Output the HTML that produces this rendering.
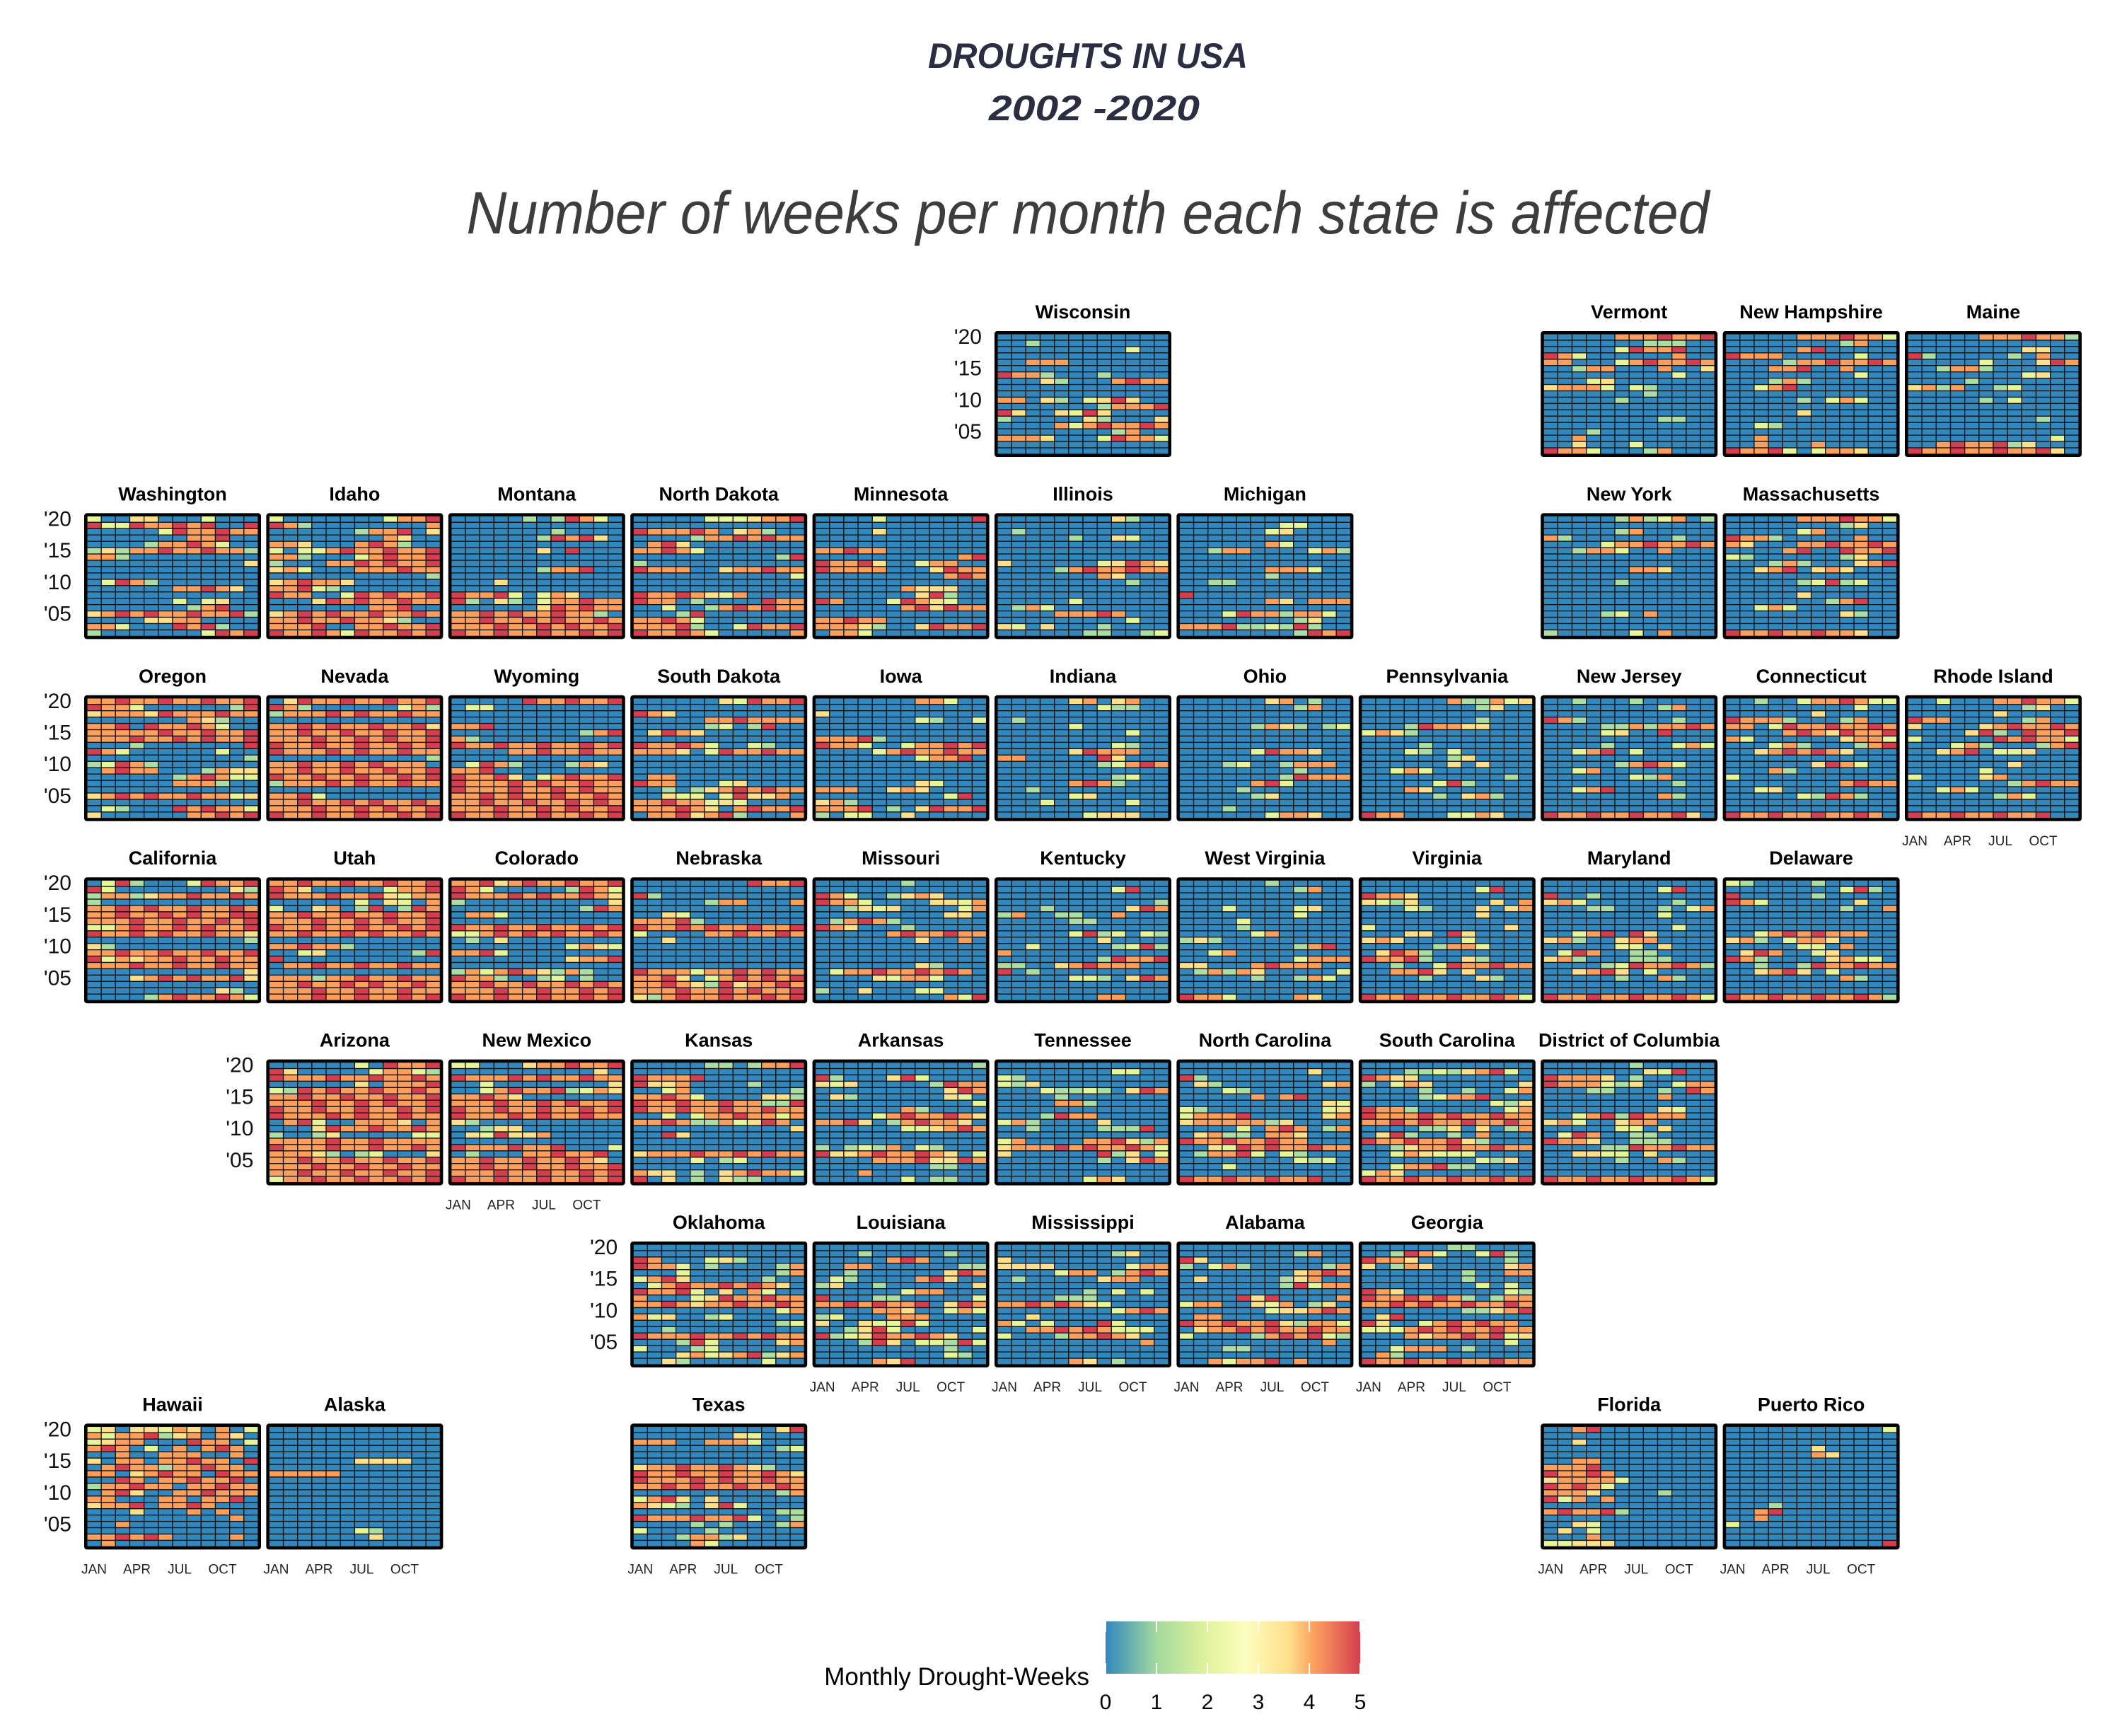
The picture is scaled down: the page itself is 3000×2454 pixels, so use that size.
<!DOCTYPE html>
<html><head><meta charset="utf-8"><title>Droughts in USA</title>
<style>
html,body{margin:0;padding:0;background:#fff;}
svg{display:block;}
</style></head>
<body>
<svg id="chart" width="3000" height="2454" viewBox="0 0 3000 2454" xmlns="http://www.w3.org/2000/svg">
<rect x="0" y="0" width="3000" height="2454" fill="#ffffff"/>
<text x="1538" y="96" text-anchor="middle" font-family="'Liberation Sans', sans-serif" font-weight="bold" font-style="italic" font-size="50" fill="#2b2d42" textLength="452" lengthAdjust="spacingAndGlyphs">DROUGHTS IN USA</text>
<text x="1547" y="170" text-anchor="middle" font-family="'Liberation Sans', sans-serif" font-weight="bold" font-style="italic" font-size="50" fill="#2b2d42" textLength="298" lengthAdjust="spacingAndGlyphs">2002 -2020</text>
<text x="1538" y="330" text-anchor="middle" font-family="'Liberation Sans', sans-serif" font-style="italic" font-size="84" fill="#3d3d3d" textLength="1757" lengthAdjust="spacingAndGlyphs">Number of weeks per month each state is affected</text>
<g id="panels"></g>
<g id="legend"></g>
</svg>
<script>
const stateNames = ["Wisconsin","Vermont","New Hampshire","Maine","Washington","Idaho","Montana","North Dakota","Minnesota","Illinois","Michigan","New York","Massachusetts","Oregon","Nevada","Wyoming","South Dakota","Iowa","Indiana","Ohio","Pennsylvania","New Jersey","Connecticut","Rhode Island","California","Utah","Colorado","Nebraska","Missouri","Kentucky","West Virginia","Virginia","Maryland","Delaware","Arizona","New Mexico","Kansas","Arkansas","Tennessee","North Carolina","South Carolina","District of Columbia","Oklahoma","Louisiana","Mississippi","Alabama","Georgia","Hawaii","Alaska","Texas","Florida","Puerto Rico"];
const gridCol = [5,8,9,10,0,1,2,3,4,5,6,8,9,0,1,2,3,4,5,6,7,8,9,10,0,1,2,3,4,5,6,7,8,9,1,2,3,4,5,6,7,8,3,4,5,6,7,0,1,3,8,9];
const gridRow = [0,0,0,0,1,1,1,1,1,1,1,1,1,2,2,2,2,2,2,2,2,2,2,2,3,3,3,3,3,3,3,3,3,3,4,4,4,4,4,4,4,4,5,5,5,5,5,6,6,6,6,6];
const years = [2020,2019,2018,2017,2016,2015,2014,2013,2012,2011,2010,2009,2008,2007,2006,2005,2004,2003,2002];
const months = ["JAN","FEB","MAR","APR","MAY","JUN","JUL","AUG","SEP","OCT","NOV","DEC"];
const monthTickLabels = ["JAN","APR","JUL","OCT"];
const monthTickIndex = [0,3,6,9];
const yearTickLabels = ["'20","'15","'10","'05"];
const yearTickValues = [2020,2015,2010,2005];
const legendTicks = [0,1,2,3,4,5];
const yearAxisStates = ["Wisconsin","Washington","Oregon","California","Arizona","Oklahoma","Hawaii"];
const monthAxisStates = ["Rhode Island","New Mexico","Louisiana","Mississippi","Alabama","Georgia","Hawaii","Alaska","Texas","Florida","Puerto Rico"];
// weeks of drought per month; each group = one year (2020 first), 12 digits Jan..Dec
const droughtWeeks = [
"000000000000 001000000000 000000000200 000000000000 004440000000 000000000000 544100010000 000310004544 000000000000 000000000000 440310235300 000000014445 530032530000 100000310003 000042454454 000000001400 444300025442 000000000000 000000000000",
"000004445445 000000011100 000002544500 542000000400 440002454454 001440004003 000000000200 000230000000 344420210000 000000010000 000001000000 000000000000 000000000000 000000001100 000000000000 000100000000 004000000000 003000200000 544200014000",
"000004445442 000000001400 000004500000 544400000200 000014454454 000445004000 000000000200 000141000000 002450000000 000000000000 000001024200 000000000000 000003000000 000000000000 002100000000 000000000000 004000000000 004000400000 544520244300",
"000004445441 000000000000 000000003300 510000010400 000002000354 001441000000 000000002300 000010000000 341400120000 000000000000 000001020000 000000000000 000000000000 000000000100 000000000000 000000000000 000000000020 004544513000 544544544530",
"200330002000 522544545005 000002544544 000000044500 000014454200 131445445441 441000000000 000000000003 000000000000 000000000000 025410000000 000000445430 000000000000 000000202300 000000014500 345454454451 000033440000 442000545100 100000002545",
"200000002445 541000000004 000000144503 000000004300 443000454100 202245445445 441000245445 100044545445 342000444544 000000000001 345443000000 445210000000 544002545445 000354544544 000000044500 345454454454 445445443100 444500445445 544542544545",
"000001015420 000000000000 000000010000 000000154530 000000000000 000000305000 000000000000 000000000000 000000144500 000000000000 000300000000 000000000000 544520243000 510310244544 000000354544 445454454410 445445454454 444544545445 544544544545",
"000002223445 000000000000 544454034100 000014454544 045300000000 445420000000 000000000015 100000000000 544400344544 000000000002 000000000000 000000000000 544543240000 544010000544 002001454544 000150000000 445420000000 444510025445 544542000004",
"000020000005 000000000000 000030000000 000000000000 000000000000 445440000000 000000000045 544530024400 544440003544 000000000454 000000000000 000000433300 000000035100 540002543200 000000453544 000000000000 445440000000 444310035445 044200000000",
"000000003100 000000000000 010000000000 000001003200 000000000000 000000000000 000000000000 300000023543 000014544544 000000043000 000000000100 000000000000 000000000000 000002000000 014200000000 000044454000 000000000200 320300010000 000000110012",
"000000000000 000000022000 000000230000 000000000000 000000420000 001440000241 000000000000 000000000000 000000444200 000000100000 001100000000 000000000000 500000000000 000000430444 000000000000 000254414420 000000001300 444511215100 000000001545",
"000001412401 000000000000 000001400000 410000000100 000024454454 001442004000 000000000000 000000000000 000000443000 000000000000 000001000000 000000000000 000000000000 000000000000 000000000000 000012040000 000000000000 000000000000 100000204000",
"000004445442 000000001300 000002400000 544100000400 430004454454 000045005445 210000001300 000141000345 003450343000 000000000000 000001251200 000000000000 000003000000 000000014500 002420000000 000000003100 000000000000 000000000000 544544544300",
"445445445445 544200000015 344435444544 000000043100 445054454200 444445445445 444544545445 000100000005 542000000200 000000000001 125410000000 045440001433 000000145422 000000444100 000000000000 345454454423 000000000000 021000545442 300000044545",
"035445445445 541000000241 144454544544 000000000000 445454454453 445445445445 444544545445 544544544545 544454544544 000000000001 445445454440 445445445445 544544544545 144454544544 000000000000 445200000000 445445454454 444544545445 544544544545",
"000005445445 022000000000 000000000000 000000000000 445000000000 000000000145 410000000000 544544544545 000044544544 000000000000 025410001430 445000000000 544530245445 544454544544 544454454544 445454454454 445445445454 444544545445 544544544545",
"000000325445 000000000000 543000000000 000004454444 000001201500 035430000000 000000000000 544542002100 444302544544 000000000000 000000000000 000000000000 044000000000 544000230000 001013454544 003220253340 445442320000 444543045445 044534510004",
"000000044200 000000000000 300000000000 000000021002 000000000000 000000000000 444510000000 544200244545 000024544544 000000024450 000000000000 000000000000 000000000000 000000032000 444003430000 000000000250 341000000000 444501035445 102200300000",
"000003403400 000000021100 000000000000 010000000000 000002000000 000000000200 000000000000 000000002100 000003544400 440000053000 000000012454 000000000000 000000001200 000004541000 001000000000 000002300000 000200000200 000000000000 000000233300",
"000000340100 000000001400 000000000000 000000000000 000001431012 000000000000 000000000000 000000000000 000002544300 000000000000 000120014440 000000001000 000000015444 000004520000 000010000000 000001300000 000000000000 000100000000 000000244300",
"000000411423 000000001300 000000000000 000000001000 000154433000 243100000000 000000000000 000010000000 000210200000 000000130000 000000303000 002420000000 000000000010 000002510000 000430000000 000001034100 000000000000 000000000000 544000224300",
"001000100000 000000001400 000000000000 541000000100 000011414454 000023005000 000000000000 000010000242 002450200000 000000000000 000001454200 002400000000 000000214000 000000000100 002450000000 000000004100 000000000000 000000000000 544544544530",
"001002445422 000000000200 000000300000 544410001400 440254454454 000045435445 420000003442 000241000145 003454543000 000000000000 000000354200 000410000000 200000000000 000000004544 002300000000 000002154100 000000000000 000000000000 544544544540",
"002000445442 000000001300 000000300000 544000001400 300003454454 000035105445 200000545442 000241000145 003450223000 000000000000 000000030000 000002000000 200003400000 000000014544 002420000000 000000142000 000000000000 000000000000 544544544500",
"025100025445 520000000031 144134454454 100000000000 445454454454 445445454455 444544544545 224544545445 544545445443 000000000001 310000000000 445445445445 524344544544 444544544544 000000000003 000345454453 000000000000 000000000310 000014544542",
"445445445445 543000002445 544454453244 000000203204 200340150154 445445445445 444544545445 544544544545 445445454454 000000000000 445441000000 002300000015 500000000000 044544544544 000000000000 444144544544 445445454454 444544544544 444544544545",
"445345445445 542000001542 544454544543 100000000003 000000000154 044200000000 000000000000 544544544545 224545454454 010300000000 000000002432 445200000000 000000003445 000000000000 142454314100 544100120100 445445445454 444544544545 544544544545",
"000000005445 000000000000 510000000000 000001440004 000000000000 003200000000 444510000000 544545445445 200004454454 003000000000 000000000000 000000000000 000000000000 000000000000 544424454544 445302454545 445431534454 444544545445 314544544545",
"000000100000 000000000000 542001343000 544200003324 001323000024 000000000330 014541000000 543000100000 000004544544 000000030040 000000000000 000000000000 000000000000 000000031000 024454454540 000032442000 000000000000 100300022000 000000000425",
"000000000000 000000002500 000000000000 000000000001 000100000354 140011004000 000001100000 000000000000 000002512021 000000030000 002000001251 400000000000 000000015445 110034544400 501000000000 000002210354 000000000000 000000000000 000000044000",
"000000100000 000000001400 000000000000 000000000000 000200002300 000000002000 000020000000 000010000000 000002400000 131000000000 000000001450 002400000000 000000002444 330004544400 014143000002 000001001420 000000000000 000000000000 544200004300",
"000000000000 000000002500 544300000000 321300000304 000210003034 000000003000 000000000000 200000000030 000330530000 343000020000 000001442000 035410000000 544510031000 001002544544 004453030000 000010003100 000000000000 000000000000 544544544542",
"000000000000 000000002500 500100000000 342000000100 000110001024 000000002000 000000000000 000000000200 002450530000 341003440000 000002203000 025400110000 341000111000 000012544541 003453020000 000001004100 000000000000 000000000000 544544544542",
"210000100000 000000002510 500000100000 542000000300 000000001004 000000000000 000000000000 000000000000 002454544400 341024430000 000002204000 035400230000 541000034220 001001544544 003453020000 000000004100 000000000000 000000000000 544544544541",
"000000205445 530000024421 544454454454 000000304445 215454454454 445445445445 444544545445 544544544545 544454544544 045200444304 000354454454 100130000022 444454454444 544454454454 444310120003 445445445445 444544544544 445445445445 244544544545",
"220003445445 000000000030 544454544544 002000000003 002454451243 445430000000 444544545445 544544544545 544454544544 310000000000 001330000000 032533400000 000000000000 544454450002 010004454450 445445445430 445445445445 444544544545 544544544545",
"000001101445 000000000000 544450000000 533400001000 002400000001 445420000331 544544544115 544544544544 002024454424 445411423540 000000000003 005300000000 000000000000 000000000000 344454454544 000020120000 000000000000 433010345442 503010311000",
"000000000001 000000000000 510003520000 323000001544 000000000354 031000000320 000000000002 000000410000 000024544543 445301454430 000000223454 000000000000 000000000000 101214021000 533454454302 000044453354 000000001100 000400000000 000000201100",
"000000000000 000000002200 210000000000 213000000000 000211210354 000010000000 000044100000 000000000000 000154400000 241000030000 001000011150 000000000000 240000445314 344454544542 300000051302 000000010354 000000000000 000000000000 000000243000",
"000000000000 000000000300 510000000000 031000000034 000210000000 000004045000 000000000032 210000000023 244450000034 344444130000 000020454014 034110443000 544544544000 003254544544 014452021000 000000002120 000200000000 000000000000 544544544500",
"000000000000 000112134520 543300000000 102430000003 000010010024 000012445000 000000000213 544100000024 544454544544 445454454454 000011303014 035100104000 544544531000 001344544544 002432220000 000000002130 002445110000 243000000000 544544544545",
"000000100000 000000032500 544430100000 544421300244 000110001054 000000004000 000000000000 000000003200 002451544400 342003440000 000002203000 025400110000 544300111000 000011544544 003322030000 000001004100 000000000000 000000000000 544544544542",
"000000000000 000000000000 540002310000 544201000014 000200000014 245300000100 024544545430 544520304200 400023544544 445434454454 000000000024 423001200000 000000000012 001000000000 544454454544 000152000034 200012000000 000342345134 003100000200",
"000000000000 000100000100 000004540000 004400000011 001000000354 021000045300 130010000003 000000244000 500011000002 445454450354 000044300242 120004440000 300322520000 001352000002 512354454300 000153022152 000000000100 000000000210 000043500000",
"000000000000 000000001300 300000000000 333300000244 000024401454 010000034400 000000000000 000000102020 000011100000 445454320000 000000002454 003000000000 420200052000 004454542220 200014454300 000000000040 000000000000 000000000000 000004301000",
"000000000000 000000001400 530000000000 102410000014 000000003454 030000013400 000000015244 000000000000 000053500004 244003240130 000000233454 044000000000 544544531442 034454544544 200001454521 000000000040 000110000000 000000000000 004244504000",
"000000110000 001542002510 544300000010 301430000034 000000010044 000000010000 000000002020 543000000021 544545410144 445454454454 000000011345 035000000000 530024545440 222454544544 000434454523 000000000020 002444010000 041000000000 544544544544",
"230332430402 424451340430 234400054402 454020404540 004004440040 304404454405 045441445440 440345440544 005404454450 144544044544 045300445444 440004404450 344504454000 000300040400 000000000040 004000000000 000000000000 445454000040 040000000000",
"000000000000 000000000000 000000000000 000000000000 000000000000 000000333300 000000000000 444440000000 000000000000 000000000000 000000000000 000000000000 000000000000 000000000000 000000000000 000000000000 000000210000 000000030000 000000000000",
"000000000035 000000032000 444004442000 000000000012 000000000000 000000000000 344544543100 544544544543 544454544544 445454454454 000000000014 245303000000 432103520000 000000000011 544454452001 000010100014 200001000000 000144130000 000042000000",
"004500000000 000000000000 003000000000 000000000000 000000000000 004400000000 444500000000 544540000000 344442000000 545420000000 444300001000 524040000000 000000000000 454451000000 000000000000 003200000000 030200000000 000400000000 223330000000",
"000000000002 000000000000 000000000000 000000300000 000000430000 000000000000 000000000000 000000000000 000000000000 000000000000 000000000000 000000000000 000100000000 004500000000 004000000000 200000000000 000000000000 000000000000 000000000005"
];

const NS = "http://www.w3.org/2000/svg";
const palette = ["#3288bd","#abdda4","#e6f598","#fee08b","#fc9f5c","#d53e4f"];
// layout
const gridX0 = 120, gridY0 = 469, pitchX = 257.4, pitchY = 257.4, panelW = 248, panelH = 176, inset = 3;
const cellW = (panelW - 2*inset) / months.length;
const cellH = (panelH - 2*inset) / years.length;
function panelX(col){ return gridX0 + col*pitchX; }
function panelY(row){ return gridY0 + row*pitchY; }
function xMonth(px, m){ return px + inset + m*cellW; }
function yYear(py, yr){ return py + inset + (years[0]-yr)*cellH; }
function colorFor(v){ return palette[Math.max(0,Math.min(5,Math.round(v)))]; }
function mk(tag, attrs){ const e = document.createElementNS(NS, tag); for (const k in attrs) e.setAttribute(k, attrs[k]); return e; }
function slug(s){ return s.toLowerCase().replace(/[^a-z0-9]+/g,'-'); }

const panelsG = document.getElementById('panels');
stateNames.forEach((name, si) => {
  const px = panelX(gridCol[si]), py = panelY(gridRow[si]);
  const rowsStr = droughtWeeks[si].trim().split(/\s+/);
  const g = mk('g', {});
  
  
  const title = mk('text', {x: px + panelW/2, y: py - 19, 'text-anchor':'middle', 'font-family':"'Liberation Sans', sans-serif", 'font-weight':'bold', 'font-size':'27', fill:'#000'});
  title.textContent = name;
  
  
  g.appendChild(title);
  years.forEach((yr, yi) => {
    const rs = (rowsStr[yi] || '').padEnd(12, '0');
    months.forEach((mo, mi) => {
      const v = parseInt(rs[mi], 10) || 0;
      const r = mk('rect', {x: xMonth(px, mi), y: yYear(py, yr), width: cellW, height: cellH, fill: colorFor(v), stroke:'#111', 'stroke-width':'1.3'});
      
      
      g.appendChild(r);
    });
  });
  const border = mk('rect', {x: px+1, y: py+1, width: panelW-2, height: panelH-2, fill:'none', stroke:'#000', 'stroke-width':'4', rx:'2'});
  
  
  g.appendChild(border);
  if (yearAxisStates.includes(name)) {
    yearTickValues.forEach((yv, ti) => {
      const t = mk('text', {x: px - 19, y: yYear(py, yv) + cellH/2, 'text-anchor':'end', 'dominant-baseline':'central', 'font-family':"'Liberation Sans', sans-serif", 'font-size':'30', fill:'#111'});
      t.textContent = yearTickLabels[ti];
      
      
      g.appendChild(t);
    });
  }
  if (monthAxisStates.includes(name)) {
    monthTickIndex.forEach((mi, ti) => {
      const t = mk('text', {x: xMonth(px, mi) + cellW/2, y: py + panelH + 35, 'text-anchor':'middle', 'font-family':"'Liberation Sans', sans-serif", 'font-size':'19', fill:'#222'});
      t.textContent = monthTickLabels[ti];
      
      
      g.appendChild(t);
    });
  }
  panelsG.appendChild(g);
});

// legend
const legG = document.getElementById('legend');
const lx0 = 1563, lx1 = 1923, ly0 = 2292, ly1 = 2366;
function xLegend(v){ return lx0 + (lx1-lx0)*v/5; }
const defs = mk('defs', {});
const grad = mk('linearGradient', {id:'spectral', x1:'0', x2:'1', y1:'0', y2:'0'});
[["0","#3288bd"],["0.2","#a3d99f"],["0.4","#e2f39c"],["0.55","#fdfebf"],["0.72","#fedf8b"],["0.82","#fca05f"],["1","#d53e4f"]].forEach(s => {
  grad.appendChild(mk('stop', {offset:s[0], 'stop-color':s[1]}));
});
defs.appendChild(grad);
legG.appendChild(defs);
const bar = mk('rect', {x:lx0, y:ly0, width:lx1-lx0, height:ly1-ly0, fill:'url(#spectral)'});


legG.appendChild(bar);
legendTicks.forEach(v => {
  const x = xLegend(v);
  const t1 = mk('line', {x1:x, x2:x, y1:ly0, y2:ly0+15, stroke:'#fff', 'stroke-width':'2'});
  
  
  legG.appendChild(t1);
  const t2 = mk('line', {x1:x, x2:x, y1:ly1-15, y2:ly1, stroke:'#fff', 'stroke-width':'2'});
  
  
  legG.appendChild(t2);
  const lab = mk('text', {x:x, y:2416, 'text-anchor':'middle', 'font-family':"'Liberation Sans', sans-serif", 'font-size':'30', fill:'#000'});
  lab.textContent = String(v);
  
  
  legG.appendChild(lab);
});
const legTitle = mk('text', {x:1540, y:2382, 'text-anchor':'end', 'font-family':"'Liberation Sans', sans-serif", 'font-size':'35', fill:'#000'});
legTitle.textContent = 'Monthly Drought-Weeks';


legG.appendChild(legTitle);
</script>
</body></html>
